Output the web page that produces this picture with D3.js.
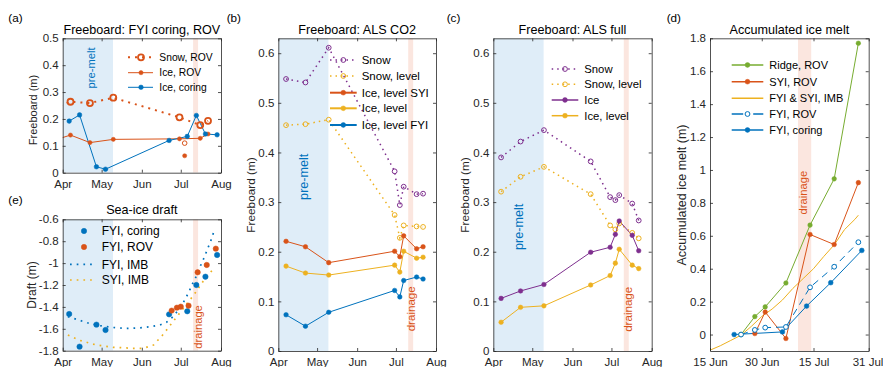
<!DOCTYPE html>
<html><head><meta charset="utf-8">
<script src="https://cdn.jsdelivr.net/npm/d3@7"></script>
<style>
body{margin:0;background:#fff}
svg{display:block}
text{font-family:"Liberation Sans",Arial,Helvetica,sans-serif}
</style>
</head><body>
<svg id="c" width="883" height="367"></svg>
<script>
// ---------------- DATA ----------------
const preMelt = ["04-01 00", "05-09 18"];
const drainage = ["07-10 12", "07-14 08"];

const monthTicks = ["04-01", "05-01", "06-01", "07-01", "08-01"];
const monthLabels = ["Apr", "May", "Jun", "Jul", "Aug"];
const meltTicks = ["06-15", "06-30", "07-15", "07-31"];
const meltTickLabels = ["15 Jun", "30 Jun", "15 Jul", "31 Jul"];
const fbTicksA = [0, 0.1, 0.2, 0.3, 0.4, 0.5];
const fbTicksBC = [0, 0.1, 0.2, 0.3, 0.4, 0.5, 0.6];
const draftTicks = [-1.8, -1.6, -1.4, -1.2, -1, -0.8, -0.6];
const meltYTicks = [0, 0.2, 0.4, 0.6, 0.8, 1, 1.2, 1.4, 1.6, 1.8];

// (a) Freeboard: FYI coring, ROV
const aRovDates = ["03-25", "04-07", "04-22", "05-10", "06-30", "07-16", "07-22"];
const aSnowRov = [0.240, 0.264, 0.259, 0.279, 0.206, 0.177, 0.193];
const aIceRov = [0.120, 0.140, 0.112, 0.124, 0.126, 0.128, 0.144];
const aExtraDate = ["07-04"];
const aSnowRovExtra = [0.110];
const aIceRovExtra = [0.063];
const coringDates = ["04-06", "04-14", "04-27", "05-04", "06-22", "07-06", "07-13", "07-20", "07-29"];
const aIceCoring = [0.192, 0.215, 0.022, 0.013, 0.120, 0.135, 0.213, 0.144, 0.141];

// (e) Sea-ice draft
const eCoring = [-1.465, -1.763, -1.562, -1.611, -1.468, -1.440, -1.200, -1.124, -0.926];
const eRovDates = ["06-24", "06-28", "07-01", "07-07", "07-14", "07-21", "07-28"];
const eRov = [-1.434, -1.407, -1.398, -1.389, -1.084, -1.017, -0.868];
const eFyiImbDates = ["04-05", "04-12", "04-20", "04-30", "05-10", "05-20", "05-30", "06-08", "06-15", "06-20", "06-25", "06-29", "07-03", "07-07", "07-10", "07-13", "07-16", "07-19", "07-22", "07-25", "07-27"];
const eFyiImb = [-1.49, -1.515, -1.545, -1.572, -1.588, -1.597, -1.592, -1.580, -1.565, -1.54, -1.49, -1.43, -1.36, -1.27, -1.19, -1.12, -1.03, -0.95, -0.86, -0.77, -0.69];
const eSyiImbDates = ["04-05", "04-14", "04-27", "05-10", "05-25", "06-02", "06-10", "06-17", "06-25", "07-03", "07-11", "07-18", "07-27"];
const eSyiImb = [-1.657, -1.705, -1.748, -1.769, -1.778, -1.778, -1.748, -1.657, -1.535, -1.413, -1.291, -1.17, -1.04];

// (b) Freeboard: ALS CO2
const bDates = ["04-07", "04-22", "05-10", "06-30", "07-04", "07-07", "07-17", "07-22"];
const bSnow = [0.548, 0.541, 0.611, 0.362, 0.294, 0.331, 0.316, 0.317];
const bSnowLevel = [0.455, 0.457, 0.466, 0.274, 0.228, 0.253, 0.251, 0.250];
const bIceLevelSYI = [0.221, 0.210, 0.178, 0.201, 0.190, 0.232, 0.206, 0.210];
const bIceLevel = [0.171, 0.157, 0.153, 0.173, 0.159, 0.201, 0.187, 0.189];
const bIceLevelFYI = [0.073, 0.050, 0.078, 0.122, 0.109, 0.142, 0.149, 0.145];

// (c) Freeboard: ALS full
const cDates = ["04-07", "04-22", "05-10", "06-15", "06-30", "07-04", "07-07", "07-17", "07-22"];
const cSnow = [0.390, 0.422, 0.445, 0.382, 0.310, 0.304, 0.314, 0.297, 0.263];
const cSnowLevel = [0.321, 0.351, 0.371, 0.316, 0.253, 0.245, 0.257, 0.238, 0.227];
const cIce = [0.106, 0.121, 0.134, 0.199, 0.209, 0.235, 0.262, 0.233, 0.202];
const cIceLevel = [0.058, 0.088, 0.091, 0.133, 0.152, 0.177, 0.205, 0.173, 0.166];

// (d) Accumulated ice melt
const dRovDates = ["06-24", "06-28", "07-01", "07-07", "07-14", "07-21", "07-28"];
const dRidge = [0, 0.109, 0.168, 0.313, 0.665, 0.946, 1.77];
const dSyiDates = ["06-28", "07-01", "07-07", "07-14", "07-21", "07-28"];
const dSyi = [0.006, 0.137, -0.024, 0.608, 0.547, 0.923];
const dFyiRov = [0, 0.028, 0.042, 0.046, 0.287, 0.412, 0.561];
const dCoringDates = ["06-22", "07-06", "07-13", "07-20", "07-29"];
const dCoring = [0, 0.016, 0.173, 0.315, 0.511];
const dImbDates = ["06-15", "06-18", "06-21", "06-24", "06-27", "06-30", "07-03", "07-06", "07-09", "07-12", "07-15", "07-18", "07-21", "07-24", "07-27", "07-28"];
const dImb = [-0.095, -0.068, -0.036, -0.004, 0.05, 0.11, 0.155, 0.21, 0.28, 0.34, 0.40, 0.475, 0.545, 0.638, 0.70, 0.725];

// ---------------- DRAWING ----------------
const BLUE = "#0072BD", ORANGE = "#D95319", YELLOW = "#EDB120", PURPLE = "#7E2F8E", GREEN = "#77AC30";
const AX = "#262626";
const PREMELT_FILL = "#DFEDF8", DRAIN_FILL = "#FBE6DF";
const pD = d3.timeParse("%Y-%m-%d"), pDH = d3.timeParse("%Y-%m-%d %H");
const D = s => (s.length > 5 ? pDH("2020-" + s) : pD("2020-" + s));
const svg = d3.select("#c");
const defs = svg.append("defs");
let clipN = 0;

function panel(o) {
  const g = svg.append("g");
  const x = d3.scaleTime().domain(o.xd.map(D)).range([o.x0, o.x1]);
  const y = d3.scaleLinear().domain(o.yd).range([o.y1, o.y0]);
  const id = "clip" + (clipN++);
  defs.append("clipPath").attr("id", id).append("rect")
    .attr("x", o.x0).attr("y", o.y0).attr("width", o.x1 - o.x0).attr("height", o.y1 - o.y0);
  const plot = g.append("g").attr("clip-path", `url(#${id})`);
  const p = { g, plot, x, y, o };
  if (o.pre) {
    plot.append("rect").attr("x", x(D(preMelt[0]))).attr("width", x(D(preMelt[1])) - x(D(preMelt[0])))
      .attr("y", o.y0).attr("height", o.y1 - o.y0).attr("fill", PREMELT_FILL);
  }
  plot.append("rect").attr("x", x(D(drainage[0]))).attr("width", x(D(drainage[1])) - x(D(drainage[0])))
    .attr("y", o.y0).attr("height", o.y1 - o.y0).attr("fill", DRAIN_FILL);
  return p;
}

function axes(p, xt, xl, yt, fs) {
  const { x, y, o, g } = p;
  const tl = o.tl || 3;
  const fmtY = v => String(+v.toFixed(1));
  const ag = g.append("g");
  const bx = ag.append("g").attr("transform", `translate(0,${o.y1})`)
    .call(d3.axisBottom(x).tickValues(xt.map(D)).tickFormat((d, i) => xl[i]).tickSizeInner(-tl).tickSizeOuter(0).tickPadding(o.xpad || 6.8));
  ag.append("g").attr("transform", `translate(0,${o.y0})`)
    .call(d3.axisTop(x).tickValues(xt.map(D)).tickFormat("").tickSizeInner(-tl).tickSizeOuter(0));
  ag.append("g").attr("transform", `translate(${o.x0},0)`)
    .call(d3.axisLeft(y).tickValues(yt).tickFormat(fmtY).tickSizeInner(-tl).tickSizeOuter(0).tickPadding(4));
  ag.append("g").attr("transform", `translate(${o.x1},0)`)
    .call(d3.axisRight(y).tickValues(yt).tickFormat("").tickSizeInner(-tl).tickSizeOuter(0));
  ag.selectAll("path.domain,line").attr("stroke", AX).attr("stroke-width", 0.8);
  ag.selectAll("g").attr("font-family", null).attr("font-size", null);
  ag.selectAll("text").attr("fill", AX).attr("font-size", fs || 11.5);
  return bx;
}

function seriesLine(p, dates, vals, color, opt = {}) {
  const pts = dates.map((d, i) => [p.x(D(d)), p.y(vals[i])]);
  p.plot.append("path").attr("d", d3.line()(pts)).attr("fill", "none")
    .attr("stroke", color).attr("stroke-width", opt.lw || 1)
    .attr("stroke-dasharray", opt.dash || null);
}
function marker(g, cx, cy, color, kind, r, sw) {
  const c = g.append("circle").attr("cx", cx).attr("cy", cy).attr("r", r);
  if (kind === "o") c.attr("fill", "none").attr("stroke", color).attr("stroke-width", sw || 1);
  else c.attr("fill", color).attr("stroke", color).attr("stroke-width", 0.5);
}
function seriesMarkers(p, dates, vals, color, kind, r, sw) {
  dates.forEach((d, i) => marker(p.plot, p.x(D(d)), p.y(vals[i]), color, kind, r, sw));
}
function legend(g, cfg, items) {
  items.forEach((it, i) => {
    const yy = cfg.rows[i];
    if (it.line !== false) {
      g.append("line").attr("x1", cfg.l0).attr("x2", cfg.l1).attr("y1", yy).attr("y2", yy)
        .attr("stroke", it.color).attr("stroke-width", it.lw || 1.5).attr("stroke-dasharray", it.dash || null);
    }
    if (it.kind) marker(g, cfg.m, yy, it.color, it.kind, it.r || 2.4, it.sw);
    g.append("text").attr("x", cfg.t).attr("y", yy).attr("dy", "0.35em").attr("font-size", cfg.fs)
      .attr("fill", "#000").text(it.text);
  });
}
function title(p, txt, yb) {
  svg.append("text").attr("x", (p.o.x0 + p.o.x1) / 2).attr("y", yb).attr("text-anchor", "middle")
    .attr("font-size", 12.6).attr("fill", "#000").text(txt);
}
function ylabel(cx, cy, txt, fs) {
  svg.append("text").attr("transform", `translate(${cx},${cy}) rotate(-90)`).attr("text-anchor", "middle")
    .attr("dominant-baseline", "central").attr("font-size", fs).attr("fill", AX).text(txt);
}
function vtext(p, xd, yv, txt, color, fs) {
  p.plot.append("text").attr("transform", `translate(${p.x(D(xd))},${p.y(yv)}) rotate(-90)`)
    .attr("text-anchor", "middle").attr("dominant-baseline", "central")
    .attr("font-size", fs).attr("fill", color).text(txt);
}
function letter(x, y, t) {
  svg.append("text").attr("x", x).attr("y", y).attr("font-size", 11.7).attr("fill", "#000").text(t);
}

// ---- (a)
const A = panel({ x0: 62.7, x1: 221, y0: 38.3, y1: 172.7, xd: ["04-01", "08-01"], yd: [0, 0.5], pre: true });
vtext(A, "04-23", 0.39, "pre-melt", BLUE, 11.2);
seriesLine(A, aRovDates, aIceRov, ORANGE);
seriesLine(A, coringDates, aIceCoring, BLUE);
seriesLine(A, aRovDates, aSnowRov, ORANGE, { lw: 2, dash: "2,5" });
seriesMarkers(A, aRovDates, aIceRov, ORANGE, "f", 2.1);
seriesMarkers(A, coringDates, aIceCoring, BLUE, "f", 2.3);
seriesMarkers(A, aRovDates, aSnowRov, ORANGE, "o", 3, 1.8);
seriesMarkers(A, aExtraDate, aSnowRovExtra, ORANGE, "o", 2.3, 1);
seriesMarkers(A, aExtraDate, aIceRovExtra, ORANGE, "f", 2.1);
axes(A, monthTicks, monthLabels, fbTicksA);
title(A, "Freeboard: FYI coring, ROV", 33.5);
ylabel(33, 110, "Freeboard (m)", 11);
letter(8.3, 21.5, "(a)");
legend(A.g, { l0: 128, l1: 153, m: 141, t: 159.3, rows: [57.3, 72.7, 87.3], fs: 10.3 }, [
  { color: ORANGE, kind: "o", r: 3, sw: 1.8, lw: 2, dash: "2,5", text: "Snow, ROV" },
  { color: ORANGE, kind: "f", r: 2.1, lw: 1, text: "Ice, ROV" },
  { color: BLUE, kind: "f", r: 2.3, lw: 1, text: "Ice, coring" }
]);

// ---- (e)
const E = panel({ x0: 62.7, x1: 221, y0: 219.3, y1: 350.7, xd: ["04-01", "08-01"], yd: [-1.8, -0.6], pre: true });
vtext(E, "07-14", -1.583, "drainage", ORANGE, 11.2);
seriesLine(E, eFyiImbDates, eFyiImb, BLUE, { lw: 1.7, dash: "1.7,5" });
seriesLine(E, eSyiImbDates, eSyiImb, YELLOW, { lw: 1.7, dash: "1.7,5" });
seriesMarkers(E, coringDates, eCoring, BLUE, "f", 2.7);
seriesMarkers(E, eRovDates, eRov, ORANGE, "f", 2.7);
axes(E, monthTicks, monthLabels, draftTicks);
title(E, "Sea-ice draft", 213.5);
ylabel(31.7, 285, "Draft (m)", 12);
letter(8.3, 204, "(e)");
legend(E.g, { l0: 70, l1: 96.7, m: 84, t: 101.7, rows: [231, 247, 264.3, 280], fs: 12 }, [
  { color: BLUE, kind: "f", r: 2.7, line: false, text: "FYI, coring" },
  { color: ORANGE, kind: "f", r: 2.7, line: false, text: "FYI, ROV" },
  { color: BLUE, lw: 1.7, dash: "1.7,5", text: "FYI, IMB" },
  { color: YELLOW, lw: 1.7, dash: "1.7,5", text: "SYI, IMB" }
]);

// ---- (b)
const B = panel({ x0: 278.3, x1: 436, y0: 38.3, y1: 351, xd: ["04-01", "08-01"], yd: [0, 0.63], pre: true });
vtext(B, "04-21", 0.351, "pre-melt", BLUE, 12.6);
vtext(B, "07-12", 0.085, "drainage", ORANGE, 11.6);
const dotted = { lw: 1.5, dash: "1.5,4" };
seriesLine(B, bDates, bSnow, PURPLE, dotted);
seriesLine(B, bDates, bSnowLevel, YELLOW, dotted);
seriesLine(B, bDates, bIceLevelSYI, ORANGE);
seriesLine(B, bDates, bIceLevel, YELLOW);
seriesLine(B, bDates, bIceLevelFYI, BLUE);
seriesMarkers(B, bDates, bSnow, PURPLE, "o", 2.4, 1);
seriesMarkers(B, bDates, bSnowLevel, YELLOW, "o", 2.4, 1);
seriesMarkers(B, bDates, bIceLevelSYI, ORANGE, "f", 2.3);
seriesMarkers(B, bDates, bIceLevel, YELLOW, "f", 2.3);
seriesMarkers(B, bDates, bIceLevelFYI, BLUE, "f", 2.3);
axes(B, monthTicks, monthLabels, fbTicksBC);
title(B, "Freeboard: ALS CO2", 33.5);
ylabel(250.7, 195, "Freeboard (m)", 11.8);
letter(226.7, 21.5, "(b)");
legend(B.g, { l0: 330, l1: 356.7, m: 343.3, t: 361.7, rows: [60, 76, 92.7, 108.3, 125], fs: 11.5 }, [
  { color: PURPLE, kind: "o", lw: 1.5, dash: "1.5,4", text: "Snow" },
  { color: YELLOW, kind: "o", lw: 1.5, dash: "1.5,4", text: "Snow, level" },
  { color: ORANGE, kind: "f", lw: 2, text: "Ice, level SYI" },
  { color: YELLOW, kind: "f", lw: 2, text: "Ice, level" },
  { color: BLUE, kind: "f", lw: 2, text: "Ice, level FYI" }
]);

// ---- (c)
const C = panel({ x0: 493.3, x1: 651.7, y0: 38.3, y1: 351, xd: ["04-01", "08-01"], yd: [0, 0.63], pre: true });
vtext(C, "04-21", 0.25, "pre-melt", BLUE, 12.6);
vtext(C, "07-13", 0.084, "drainage", ORANGE, 11.6);
seriesLine(C, cDates, cSnow, PURPLE, dotted);
seriesLine(C, cDates, cSnowLevel, YELLOW, dotted);
seriesLine(C, cDates, cIce, PURPLE);
seriesLine(C, cDates, cIceLevel, YELLOW);
seriesMarkers(C, cDates, cSnow, PURPLE, "o", 2.4, 1);
seriesMarkers(C, cDates, cSnowLevel, YELLOW, "o", 2.4, 1);
seriesMarkers(C, cDates, cIce, PURPLE, "f", 2.3);
seriesMarkers(C, cDates, cIceLevel, YELLOW, "f", 2.3);
axes(C, monthTicks, monthLabels, fbTicksBC);
title(C, "Freeboard: ALS full", 33.5);
ylabel(465, 195, "Freeboard (m)", 11.8);
letter(446.7, 21.5, "(c)");
legend(C.g, { l0: 551.7, l1: 578.3, m: 565, t: 584.3, rows: [69, 84.3, 100, 115.7], fs: 11.3 }, [
  { color: PURPLE, kind: "o", lw: 1.5, dash: "1.5,4", text: "Snow" },
  { color: YELLOW, kind: "o", lw: 1.5, dash: "1.5,4", text: "Snow, level" },
  { color: PURPLE, kind: "f", lw: 1.5, text: "Ice" },
  { color: YELLOW, kind: "f", lw: 1.5, text: "Ice, level" }
]);

// ---- (d)
const Dp = panel({ x0: 710, x1: 868.7, y0: 38.3, y1: 351, xd: ["06-15", "07-31"], yd: [-0.1, 1.8], pre: false });
vtext(Dp, "07-12", 0.862, "drainage", ORANGE, 11.2);
seriesLine(Dp, dImbDates, dImb, YELLOW);
seriesLine(Dp, dRovDates, dRidge, GREEN);
seriesLine(Dp, dSyiDates, dSyi, ORANGE);
seriesLine(Dp, dRovDates, dFyiRov, BLUE, { dash: "7,5" });
seriesLine(Dp, dCoringDates, dCoring, BLUE);
seriesMarkers(Dp, dRovDates, dRidge, GREEN, "f", 2.3);
seriesMarkers(Dp, dSyiDates, dSyi, ORANGE, "f", 2.3);
seriesMarkers(Dp, dCoringDates, dCoring, BLUE, "f", 2.4);
dRovDates.forEach((d, i) => {
  Dp.plot.append("circle").attr("cx", Dp.x(D(d))).attr("cy", Dp.y(dFyiRov[i])).attr("r", 2.4)
    .attr("fill", "#fff").attr("stroke", BLUE).attr("stroke-width", 1);
});
const dxAxis = axes(Dp, meltTicks, meltTickLabels, meltYTicks);
// keep the last tick label inside the window (as in the reference, it reaches the edge)
dxAxis.selectAll("text").filter((d, i) => i === meltTicks.length - 1)
  .attr("text-anchor", "end").attr("x", 14.2);
title(Dp, "Accumulated ice melt", 33.5);
ylabel(682, 195, "Accumulated ice melt (m)", 12.5);
letter(666.7, 21.5, "(d)");
legend(Dp.g, { l0: 731.7, l1: 763.3, m: 747.5, t: 769.3, rows: [65, 81.7, 98.3, 114, 130], fs: 11 }, [
  { color: GREEN, kind: "f", lw: 1.5, text: "Ridge, ROV" },
  { color: ORANGE, kind: "f", lw: 1.5, text: "SYI, ROV" },
  { color: YELLOW, lw: 1.5, text: "FYI & SYI, IMB" },
  { color: BLUE, kind: "o", lw: 1.5, dash: "11.5,10", text: "FYI, ROV" },
  { color: BLUE, kind: "f", lw: 1.5, text: "FYI, coring" }
]);
</script>
</body></html>
